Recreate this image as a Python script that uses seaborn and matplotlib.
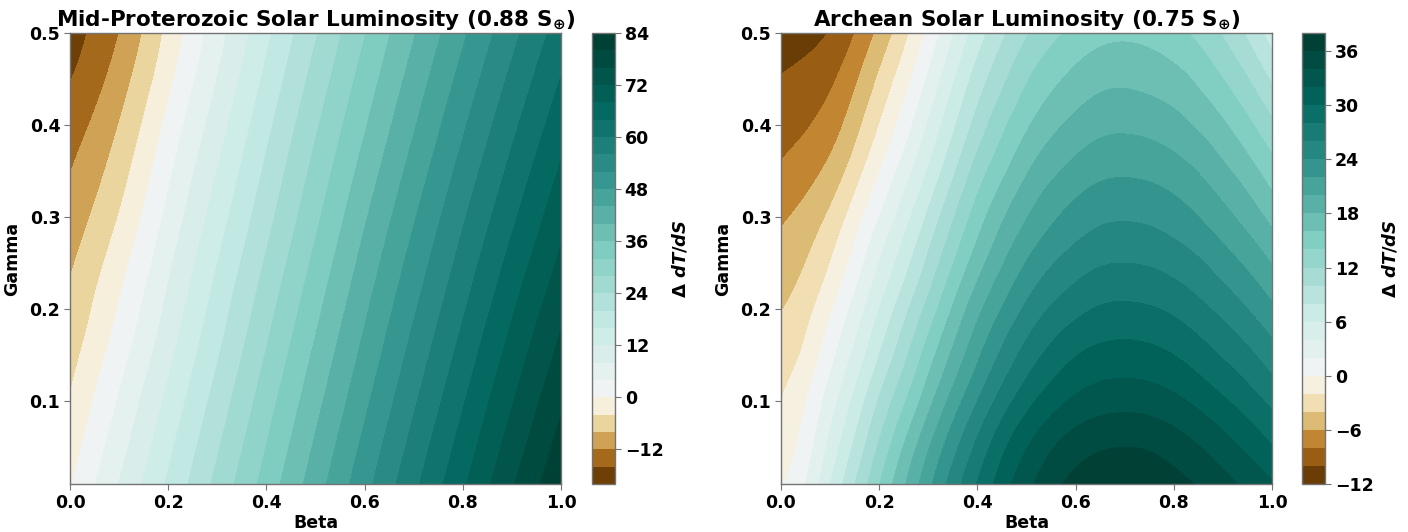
import numpy as np
import matplotlib
matplotlib.use("Agg")
import matplotlib.pyplot as plt
from matplotlib.colors import TwoSlopeNorm
from matplotlib.tri import Triangulation, UniformTriRefiner
import seaborn as sns

sns.set_style("ticks")
plt.rcParams.update({
    "font.family": ["DejaVu Sans"],
    "font.weight": "bold",
    "axes.labelweight": "bold",
    "axes.titleweight": "bold",
    "text.color": "black",
    "axes.labelcolor": "black",
    "xtick.labelcolor": "black",
    "ytick.labelcolor": "black",
    "mathtext.fontset": "custom",
    "mathtext.rm": "DejaVu Sans:bold",
    "mathtext.it": "DejaVu Sans:italic:bold",
    "mathtext.bf": "DejaVu Sans:bold",
})

# ---- Mid-Proterozoic case: change in dT/dS over (beta, gamma) ----
mid_beta = [0.0, 0.1, 0.2, 0.3, 0.4, 0.5, 0.6, 0.7, 0.8, 0.9, 1.0]
mid_gamma = [0.01, 0.1, 0.2, 0.3, 0.4, 0.5]
mid_dtds = [
    [-0.4, 8.1, 16.6, 25.1, 33.6, 42.1, 50.6, 59.0, 67.3, 75.5, 83.2],
    [-3.7, 4.4, 13.0, 21.6, 30.2, 38.7, 47.1, 55.4, 63.6, 71.7, 79.3],
    [-7.0, 0.3, 9.0, 17.8, 26.4, 34.9, 43.3, 51.5, 59.5, 67.5, 75.0],
    [-10.4, -3.8, 5.1, 14.0, 22.6, 31.1, 39.5, 47.6, 55.5, 63.2, 70.7],
    [-14.0, -7.9, 1.1, 10.1, 18.9, 27.4, 35.6, 43.6, 51.4, 59.0, 66.3],
    [-17.7, -12.0, -2.9, 6.3, 15.1, 23.6, 31.8, 39.7, 47.3, 54.8, 62.0],
]
mid_levels = list(range(-20, 85, 4))

# ---- Archean case ----
arc_beta = [0.0, 0.05, 0.1, 0.15, 0.2, 0.25, 0.3, 0.35, 0.4, 0.45, 0.5,
            0.55, 0.6, 0.65, 0.7, 0.75, 0.8, 0.85, 0.9, 0.95, 1.0]
arc_gamma = [0.01, 0.05, 0.1, 0.15, 0.2, 0.25, 0.3, 0.35, 0.4, 0.45, 0.5]
arc_dtds = [
    [-0.3, 2.0, 5.9, 9.9, 13.9, 17.7, 21.4, 24.9, 28.1, 31.0, 33.4, 35.3, 36.6, 37.3, 37.5, 37.3, 36.7, 35.8, 34.7, 33.5, 32.2],
    [-1.1, 1.0, 4.6, 8.4, 12.3, 16.1, 19.8, 23.3, 26.5, 29.5, 31.9, 33.8, 35.1, 35.8, 36.0, 35.8, 35.1, 34.1, 32.9, 31.6, 30.1],
    [-2.0, -0.1, 3.0, 6.5, 10.2, 13.7, 17.3, 20.8, 24.0, 26.9, 29.3, 31.1, 32.4, 33.1, 33.3, 33.1, 32.5, 31.5, 30.3, 29.0, 27.5],
    [-3.1, -1.5, 1.3, 4.5, 8.0, 11.4, 15.0, 18.4, 21.6, 24.4, 26.8, 28.6, 29.9, 30.6, 30.8, 30.6, 30.0, 29.0, 27.8, 26.5, 24.9],
    [-4.1, -2.7, -0.3, 2.7, 6.0, 9.3, 12.7, 16.2, 19.4, 22.1, 24.4, 26.2, 27.4, 28.2, 28.4, 28.2, 27.6, 26.6, 25.4, 24.0, 22.4],
    [-5.2, -4.0, -2.0, 0.8, 4.0, 7.1, 10.5, 13.9, 17.1, 19.8, 22.1, 23.8, 25.0, 25.8, 26.0, 25.8, 25.2, 24.3, 23.0, 21.6, 19.9],
    [-6.3, -5.3, -3.6, -1.0, 2.0, 5.1, 8.4, 11.8, 15.0, 17.7, 19.9, 21.6, 22.8, 23.6, 23.8, 23.6, 23.0, 22.0, 20.7, 19.2, 17.4],
    [-7.7, -6.8, -5.4, -3.0, -0.1, 2.9, 6.2, 9.6, 12.9, 15.5, 17.8, 19.5, 20.7, 21.5, 21.7, 21.5, 20.9, 19.9, 18.5, 16.9, 14.9],
    [-8.9, -8.2, -7.0, -4.8, -2.0, 0.9, 4.2, 7.6, 10.8, 13.5, 15.7, 17.4, 18.6, 19.4, 19.6, 19.35, 18.75, 17.7, 16.3, 14.5, 12.4],
    [-9.9, -9.4, -8.4, -6.4, -3.7, -0.9, 2.3, 5.7, 8.9, 11.5, 13.8, 15.4, 16.6, 17.4, 17.6, 17.3, 16.7, 15.6, 14.0, 12.1, 9.7],
    [-11.0, -10.6, -9.9, -8.0, -5.5, -2.7, 0.4, 3.8, 7.0, 9.6, 11.8, 13.4, 14.6, 15.35, 15.6, 15.35, 14.65, 13.45, 11.8, 9.65, 7.0],
]
arc_levels = list(range(-12, 39, 2))

titles = ["Mid-Proterozoic Solar Luminosity (0.88 S$_{\\oplus}$)",
          "Archean Solar Luminosity (0.75 S$_{\\oplus}$)"]

cmap = sns.color_palette("BrBG", as_cmap=True)
W, H = 1408, 532
fig = plt.figure(figsize=(W / 100, H / 100), dpi=100)


def frac(x0, y0, w, h):
    return [x0 / W, 1 - (y0 + h) / H, w / W, h / H]


panels = [
    (mid_beta, mid_gamma, mid_dtds, mid_levels, 70, 592),
    (arc_beta, arc_gamma, arc_dtds, arc_levels, 781, 1302),
]
edge = "0.45"
for (bx, gy, z, lev, ax_x, cb_x), title in zip(panels, titles):
    ax = fig.add_axes(frac(ax_x, 33, 491, 451))
    cax = fig.add_axes(frac(cb_x, 33, 23, 451))
    norm = TwoSlopeNorm(vmin=lev[0], vcenter=0, vmax=lev[-1])

    # smooth filled contours: refine the tabulated grid with a cubic interpolator
    B, G = np.meshgrid(np.array(bx), np.array(gy))
    tri = Triangulation(B.ravel(), G.ravel())
    tri_f, z_f = UniformTriRefiner(tri).refine_field(np.array(z).ravel(), subdiv=3)
    z_f = np.clip(z_f, lev[0] + 1e-6, lev[-1] - 1e-6)
    cs = ax.tricontourf(tri_f, z_f, levels=lev, cmap=cmap, norm=norm)

    ax.set_xlim(0, 1)
    ax.set_ylim(gy[0], gy[-1])
    ax.set_xticks([0.0, 0.2, 0.4, 0.6, 0.8, 1.0])
    ax.set_yticks([0.1, 0.2, 0.3, 0.4, 0.5])
    ax.set_xlabel("Beta", fontsize=12.5, fontweight="bold", labelpad=2)
    ax.set_ylabel("Gamma", fontsize=12.5, fontweight="bold", labelpad=6)
    ax.set_title(title, fontsize=15.5, fontweight="bold", pad=5)
    ax.tick_params(labelsize=12.5, length=4, color=edge, pad=3)
    for s in ax.spines.values():
        s.set_color(edge)
        s.set_linewidth(1.0)

    cb = fig.colorbar(cs, cax=cax)
    cb.outline.set_edgecolor(edge)
    cb.outline.set_linewidth(1.0)
    cb.ax.tick_params(labelsize=12.5, length=4, color=edge, pad=3)
    cb.set_label(r"$\Delta\ dT/dS$", fontsize=13, labelpad=5)
    for lbl in ax.get_xticklabels() + ax.get_yticklabels() + cb.ax.get_yticklabels():
        lbl.set_fontweight("bold")

fig.savefig("out.png", dpi=100)
